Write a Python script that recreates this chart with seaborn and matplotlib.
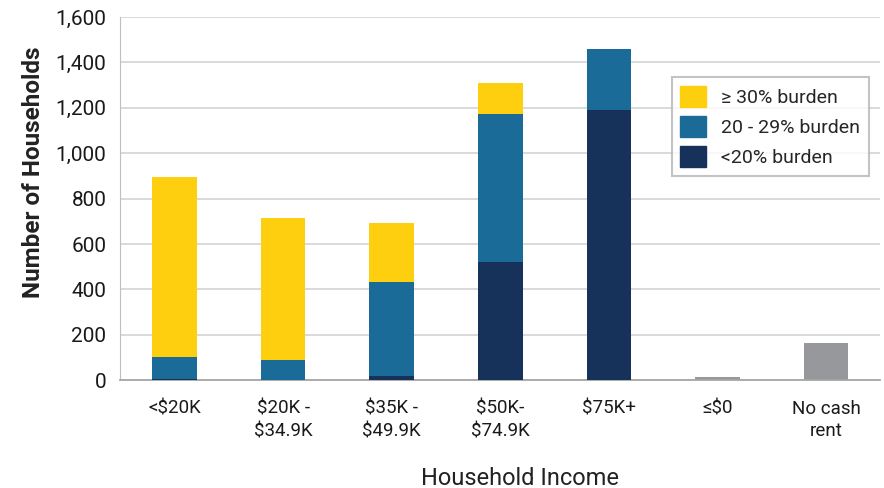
import pandas as pd
import matplotlib.pyplot as plt
import seaborn as sns
from matplotlib.patches import Patch

# Data
categories = ['<$20K', '$20K -\n$34.9K', '$35K -\n$49.9K', '$50K-\n$74.9K', '$75K+', '≤$0', 'No cash\nrent']
burden_lt20 = [5, 0, 20, 522, 1190, 0, 0]
burden_20_29 = [95, 88, 412, 650, 270, 0, 0]
burden_ge30 = [795, 627, 260, 136, 0, 0, 0]
other = [0, 0, 0, 0, 0, 12, 165]

YELLOW = '#FDCF0E'
BLUE = '#1A6B97'
NAVY = '#17325A'
GRAY = '#97989B'


def main():
    df = pd.DataFrame({
        'Income': categories,
        'lt20': burden_lt20,
        'mid': burden_20_29,
        'ge30': burden_ge30,
        'other': other,
    })
    df['layer_navy'] = df['lt20']
    df['layer_blue'] = df['lt20'] + df['mid']
    df['layer_top'] = df['layer_blue'] + df['ge30'] + df['other']

    sns.set_style('white')
    plt.rcParams['font.family'] = ['Roboto', 'DejaVu Sans']

    fig, ax = plt.subplots(figsize=(8.84, 4.88), dpi=100)
    fig.subplots_adjust(left=0.136, right=0.996, top=0.965, bottom=0.221)

    top_colors = [YELLOW] * 5 + [GRAY] * 2
    w = 0.41
    sns.barplot(data=df, x='Income', y='layer_top', hue='Income', palette=top_colors,
                legend=False, width=w, ax=ax, zorder=2)
    sns.barplot(data=df, x='Income', y='layer_blue', color=BLUE, saturation=1,
                width=w, ax=ax, zorder=3)
    sns.barplot(data=df, x='Income', y='layer_navy', color=NAVY, saturation=1,
                width=w, ax=ax, zorder=4)
    for p in ax.patches:
        p.set_linewidth(0)
    # keep palette colors unsaturated
    for p, c in zip(ax.patches[:7], top_colors):
        p.set_facecolor(c)

    ax.set_ylim(0, 1600)
    ax.set_xlim(-0.5, 6.5)
    ax.set_yticks(range(0, 1601, 200))
    ax.yaxis.set_major_formatter(plt.FuncFormatter(lambda v, _: f'{int(v):,}'))
    ax.grid(axis='y', color='#CFCFCF', linewidth=1.1, zorder=0)
    ax.set_axisbelow(True)
    for s in ['top', 'right']:
        ax.spines[s].set_visible(False)
    ax.spines['left'].set_color('#BFBFBF')
    ax.spines['bottom'].set_color('#A6A6A6')
    ax.spines['bottom'].set_linewidth(1.3)
    ax.tick_params(axis='y', length=0, labelsize=15, colors='#1a1a1a', pad=10)
    ax.tick_params(axis='x', length=0, labelsize=13.5, colors='#1a1a1a', pad=14)
    for t in ax.get_xticklabels():
        t.set_linespacing(1.35)

    ax.set_ylabel('Number of Households', fontsize=17.5, fontweight='bold', color='#222222')
    ax.yaxis.set_label_coords(-0.114, 0.573)
    ax.set_xlabel('Household Income', fontsize=17, color='#222222')
    ax.xaxis.set_label_coords(0.526, -0.27)
    ax.xaxis.label.set_va('center')
    ax.yaxis.label.set_va('center')

    handles = [Patch(color=YELLOW, label='≥ 30% burden'),
               Patch(color=BLUE, label='20 - 29% burden'),
               Patch(color=NAVY, label='<20% burden')]
    leg = ax.legend(handles=handles, loc='upper right', bbox_to_anchor=(0.985, 0.835),
                    fontsize=14, frameon=True, fancybox=False, handlelength=1.3,
                    handleheight=1.3, labelspacing=0.45, borderpad=0.45, handletextpad=0.8,
                    borderaxespad=0)
    leg.get_frame().set_edgecolor('#B5B5B5')
    leg.get_frame().set_linewidth(1.5)

    fig.savefig('out.png', dpi=100)
    plt.close(fig)


if __name__ == '__main__':
    main()
